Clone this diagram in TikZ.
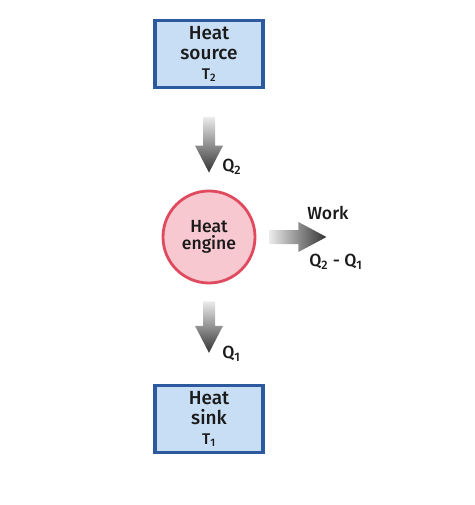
\documentclass[tikz,border=0pt]{standalone}
\usepackage{fontspec}
\setmainfont{Fira Sans}[UprightFont=* Medium]
\usetikzlibrary{calc,positioning}
\definecolor{boxfill}{HTML}{C8DEF4}
\definecolor{boxline}{HTML}{2D5A9E}
\definecolor{engfill}{HTML}{F8C8D0}
\definecolor{engline}{HTML}{E04A5E}
\definecolor{txt}{HTML}{1A1A1A}

\begin{document}
\begin{tikzpicture}[x=0.025cm, y=-0.025cm,
    res/.style={draw=boxline,fill=boxfill,line width=2.2pt,minimum width=2.7cm,minimum height=1.68cm,align=center,inner sep=0pt,text=txt,font=\fontsize{13.5}{14.2}\selectfont},
    eng/.style={draw=engline,fill=engfill,line width=2pt,circle,minimum size=2.3cm,align=center,inner sep=0pt,text=txt,font=\fontsize{12.5}{12.5}\selectfont},
    lbl/.style={text=txt,inner sep=0pt,font=\fontsize{12.5}{15}\selectfont},
    vshade/.style={top color=white!92!black,bottom color=black!80},
    hshade/.style={left color=white!92!black,right color=black!80}]
    \useasboundingbox (0,0) rectangle (474,505);

    \node[res] (source) at (209,54) {Heat\\source\\{\fontsize{11}{11}\selectfont T\textsubscript{2}}};
    \node[eng] (engine) at (209,237) {Heat\\engine};
    \node[res] (sink) at (209,419) {Heat\\sink\\{\fontsize{11}{11}\selectfont T\textsubscript{1}}};

    \coordinate (q2s) at ($(source.south)+(0,28)$);
    \coordinate (q2e) at ($(engine.north)+(0,-17)$);
    \coordinate (q1s) at ($(engine.south)+(0,17)$);
    \coordinate (q1e) at ($(sink.north)+(0,-31)$);
    \coordinate (ws) at ($(engine.east)+(13,0)$);
    \coordinate (we) at ($(engine.east)+(70,0)$);

    \shade[vshade] ($(q2s)+(-6,0)$) -- ($(q2e)+(-6,-27)$) -- ($(q2e)+(-14,-27)$) -- (q2e) -- ($(q2e)+(14,-27)$) -- ($(q2e)+(6,-27)$) -- ($(q2s)+(6,0)$) -- cycle;
    \shade[vshade] ($(q1s)+(-6,0)$) -- ($(q1e)+(-6,-27)$) -- ($(q1e)+(-14,-27)$) -- (q1e) -- ($(q1e)+(14,-27)$) -- ($(q1e)+(6,-27)$) -- ($(q1s)+(6,0)$) -- cycle;
    \shade[hshade] ($(ws)+(0,-7)$) -- ($(we)+(-28,-7)$) -- ($(we)+(-28,-15)$) -- (we) -- ($(we)+(-28,15)$) -- ($(we)+(-28,7)$) -- ($(ws)+(0,7)$) -- cycle;

    \node[lbl,anchor=west] (q2) at (222,167) {Q\textsubscript{2}};
    \node[lbl,anchor=west] (q1) at (222,354) {Q\textsubscript{1}};
    \node[lbl] (work) at (328,213) {Work};
    \node[lbl] (diff) at (336,262) {Q\textsubscript{2} - Q\textsubscript{1}};
\end{tikzpicture}
\end{document}
